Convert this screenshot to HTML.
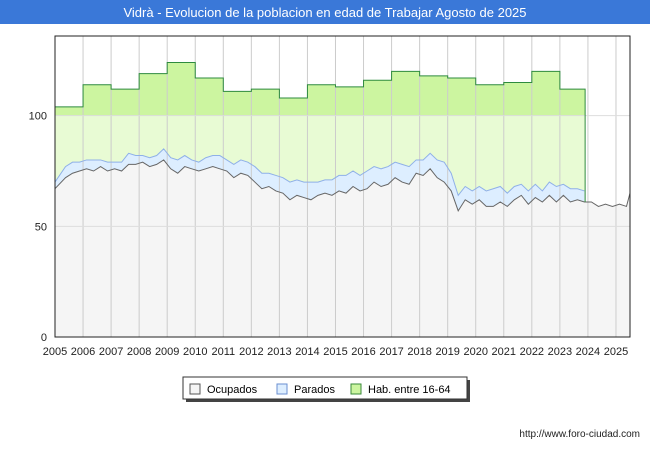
<!DOCTYPE html>
<html><head><meta charset="utf-8"><style>
body{margin:0;width:650px;height:450px;background:#fff;font-family:"Liberation Sans",sans-serif;overflow:hidden}
</style></head><body>
<svg width="650" height="450" xmlns="http://www.w3.org/2000/svg" id="svg">
<rect x="0" y="0" width="650" height="450" fill="#fff"/>
<rect x="0" y="0" width="650" height="24" fill="#3a78d8"/>
<text x="325" y="17" text-anchor="middle" fill="#fff" font-size="13">Vidrà - Evolucion de la poblacion en edad de Trabajar Agosto de 2025</text>
<g id="plot"></g>
<g>
<rect x="186" y="380" width="284" height="22" fill="#444"/>
<rect x="183" y="377" width="284" height="22" fill="#fff" stroke="#333"/>
<rect x="190" y="384" width="10" height="10" fill="#f5f5f5" stroke="#555"/>
<text x="207" y="393" font-size="11">Ocupados</text>
<rect x="277" y="384" width="10" height="10" fill="#ddeeff" stroke="#6a8fd0"/>
<text x="294" y="393" font-size="11">Parados</text>
<rect x="351" y="384" width="10" height="10" fill="#ccf5a0" stroke="#3a8a3a"/>
<text x="368" y="393" font-size="11">Hab. entre 16-64</text>
</g>
<text x="640" y="437" text-anchor="end" font-size="10" fill="#222">http://www.foro-ciudad.com</text>
</svg>
<script>
const years=[2005,2006,2007,2008,2009,2010,2011,2012,2013,2014,2015,2016,2017,2018,2019,2020,2021,2022,2023,2024,2025];
const habValues=[104,114,112,119,124,117,111,112,108,114,113,116,120,118,117,114,115,120,112];
const ocupados=[67,72,74,75,76,75,77,75,76,75,78,78,79,77,78,80,76,74,77,76,75,76,77,76,75,72,74,73,70,67,68,66,65,62,64,63,62,64,65,64,66,65,68,66,67,70,68,69,72,70,69,74,73,76,72,70,66,57,62,60,62,59,59,61,59,62,64,60,63,61,64,61,64,61,62,61,61,59,60,59,60,59,65];
const parados=[3,5,5,4,4,5,3,4,3,4,5,4,3,4,4,5,5,6,5,4,4,5,5,6,5,6,6,6,7,7,6,7,7,8,7,7,8,6,6,7,7,8,7,7,8,7,8,8,7,8,8,6,7,7,8,9,8,7,6,6,6,7,8,7,6,6,5,6,6,5,6,7,5,6,5,5];
const yTicks=[0,50,100];
const X0=55,X1=630,Y0=337,YT=36,yMax=136,xStart=2005,xEnd=2025.5;
const sx=v=>X0+(v-xStart)/(xEnd-xStart)*(X1-X0);
const sy=v=>Y0-v/yMax*(Y0-YT);
const ns="http://www.w3.org/2000/svg";
const g=document.getElementById('plot');
function mk(t,a){const e=document.createElementNS(ns,t);for(const k in a)e.setAttribute(k,a[k]);g.appendChild(e);return e;}
const tq=i=>xStart+i/4+0.125;
const habEnd=xStart+habValues.length-0.1;
// hab area
let hp=`M${sx(xStart)},${Y0}`;
habValues.forEach((v,i)=>{const a=xStart+i,b=Math.min(xStart+i+1,habEnd);hp+=` L${sx(a)},${sy(v)} L${sx(b)},${sy(v)}`;});
hp+=` L${sx(habEnd)},${sy(ocupados[Math.floor((habEnd-xStart)*4)])} L${sx(habEnd)},${Y0} Z`;
let e=mk('path',{d:hp,fill:'#ccf5a0'});


e=mk('rect',{x:X0,y:sy(100),width:sx(habEnd)-X0,height:Y0-sy(100),fill:'#fff',opacity:0.55});


// parados area
const n=parados.length;
let pts=[];for(let i=0;i<n;i++)pts.push([sx(i===0?xStart:tq(i)),sy(ocupados[i]+parados[i])]);
let pp=`M${pts[0][0]},${sy(ocupados[0])} `+pts.map(p=>`L${p[0]},${p[1]}`).join(' ');
for(let i=n-1;i>=0;i--)pp+=` L${sx(i===0?xStart:tq(i))},${sy(ocupados[i])}`;
e=mk('path',{d:pp+' Z',fill:'#ddeeff'});


// ocupados area
const m=ocupados.length;
let op=[];for(let i=0;i<m;i++)op.push([sx(i===0?xStart:Math.min(tq(i),xEnd)),sy(ocupados[i])]);
op[m-1][0]=X1;
e=mk('path',{d:`M${X0},${Y0} `+op.map(p=>`L${p[0]},${p[1]}`).join(' ')+` L${X1},${Y0} Z`,fill:'#f5f5f5'});


// grid
years.forEach(y=>{if(y>xStart){const l=mk('line',{x1:sx(y),x2:sx(y),y1:YT,y2:Y0,stroke:'#ccc'});}});
yTicks.forEach(v=>{if(v>0){const l=mk('line',{x1:X0,x2:X1,y1:sy(v),y2:sy(v),stroke:'#ddd'});}});
// lines
e=mk('polyline',{points:pts.map(p=>p.join(',')).join(' '),fill:'none',stroke:'#8fb0e8','stroke-width':1});


e=mk('polyline',{points:op.map(p=>p.join(',')).join(' '),fill:'none',stroke:'#666','stroke-width':1});


let hl='';habValues.forEach((v,i)=>{const a=xStart+i,b=Math.min(xStart+i+1,habEnd);hl+=`${i?'L':'M'}${sx(a)},${sy(v)} L${sx(b)},${sy(v)} `;});
hl+=`L${sx(habEnd)},${sy(ocupados[Math.floor((habEnd-xStart)*4)])}`;
e=mk('path',{d:hl,fill:'none',stroke:'#2e8b3e','stroke-width':1});


// frame
e=mk('rect',{x:X0,y:YT,width:X1-X0,height:Y0-YT,fill:'none',stroke:'#222'});


yTicks.forEach(v=>{const t=mk('text',{x:47,y:sy(v)+4,'text-anchor':'end','font-size':11,fill:'#222'});t.textContent=v;});
years.forEach(y=>{const t=mk('text',{x:sx(y),y:355,'text-anchor':'middle','font-size':11,fill:'#222'});t.textContent=y;});
</script>
</body></html>
